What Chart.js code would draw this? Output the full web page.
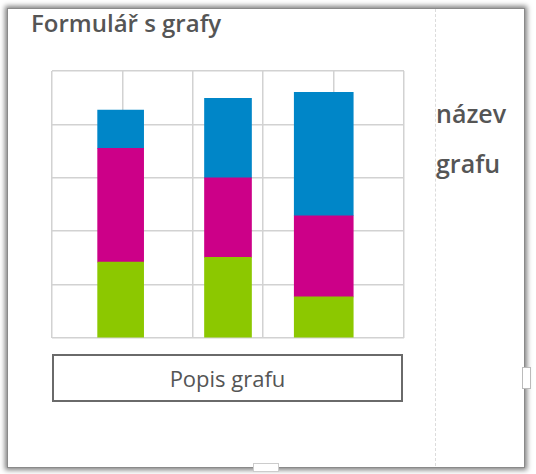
<!DOCTYPE html>
<html>
<head>
<meta charset="utf-8">
<script src="https://cdn.jsdelivr.net/npm/chart.js@4/dist/chart.umd.min.js"></script>
<style>
  html, body { margin: 0; padding: 0; background: #fff; }
  body { width: 536px; height: 474px; position: relative; overflow: hidden; font-family: "Open Sans", sans-serif; color: #555; }
  .panel { position: absolute; left: 7px; top: 8px; width: 516px; height: 458px; background: #fff; border: 1px solid #8a8a8a; box-shadow: 0 0 5px 2px rgba(0,0,0,0.5); }
  .divider { position: absolute; left: 435px; top: 9px; height: 457px; border-left: 1px dashed #dcdcdc; }
  .title { position: absolute; left: 31px; top: 6px; font-size: 24px; font-weight: 600; }
  .side { position: absolute; left: 436px; font-size: 25px; font-weight: 600; }
  .caption { position: absolute; left: 52px; top: 354px; width: 347px; height: 44px; border: 2px solid #6a6a6a; text-align: center; line-height: 44px; font-size: 22px; }
  .tab-r { position: absolute; left: 522px; top: 367px; width: 7px; height: 20px; background: #fff; border: 1px solid #bbb; }
  .tab-b { position: absolute; left: 253px; top: 463px; width: 24px; height: 7px; background: #fff; border: 1px solid #ccc; }
  #wrap { position: absolute; left: 42px; top: 61px; width: 372px; height: 287px; }
</style>
</head>
<body>
<div class="panel"></div>
<div class="divider"></div>
<div class="title">Formulář s grafy</div>
<div class="side" style="top: 96px;">název</div>
<div class="side" style="top: 146px;">grafu</div>
<div id="wrap"><canvas id="chart"></canvas></div>
<div class="caption">Popis grafu</div>
<div class="tab-r"></div>
<div class="tab-b"></div>
<script>
// bar positions on the 0..5 grid and segment values (bottom to top)
const barX = [0.975, 2.5, 3.86];
const green = [1.42, 1.51, 0.77];
const magenta = [2.13, 1.49, 1.52];
const blue = [0.72, 1.49, 2.31];
const gridTicks = [0, 1, 2, 3, 4, 5];

const barWidths = [46, 47, 59];
const seriesColors = ["#8cc800", "#cc0088", "#0086c8"];

const series = [green, magenta, blue];
const datasets = [];
barX.forEach((x, i) => {
  series.forEach((s, k) => {
    datasets.push({
      data: [{ x: x, y: s[i] }],
      backgroundColor: seriesColors[k],
      barThickness: barWidths[i],
      borderWidth: 0,
    });
  });
});

const gridOpts = { color: "#d2d2d2", lineWidth: 1.5, drawTicks: false, offset: false };

new Chart(document.getElementById("chart"), {
  type: "bar",
  data: { datasets },
  options: {
    responsive: true,
    maintainAspectRatio: false,
    animation: false,
    layout: { padding: 10 },
    plugins: { legend: { display: false }, tooltip: { enabled: false } },
    scales: {
      x: {
        type: "linear", stacked: true, offset: false,
        min: gridTicks[0], max: gridTicks[gridTicks.length - 1],
        ticks: { display: false, stepSize: 1 }, grid: gridOpts, border: { display: false },
      },
      y: {
        stacked: true, min: gridTicks[0], max: gridTicks[gridTicks.length - 1],
        ticks: { display: false, stepSize: 1 }, grid: gridOpts, border: { display: false },
      },
    },
  },
});
</script>
</body>
</html>
